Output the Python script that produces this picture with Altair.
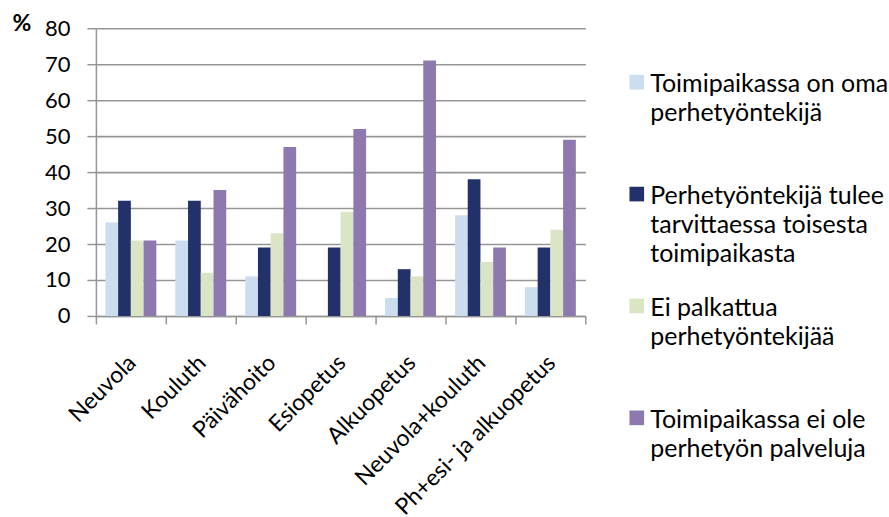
import altair as alt
import pandas as pd

# Categories on the x axis
categories = [
    "Neuvola",
    "Kouluth",
    "Päivähoito",
    "Esiopetus",
    "Alkuopetus",
    "Neuvola+kouluth",
    "Ph+esi- ja alkuopetus",
]

# Series (legend entries) and their wrapped legend texts
series = [
    "Toimipaikassa on oma perhetyöntekijä",
    "Perhetyöntekijä tulee tarvittaessa toisesta toimipaikasta",
    "Ei palkattua perhetyöntekijää",
    "Toimipaikassa ei ole perhetyön palveluja",
]
legend_texts = [
    "Toimipaikassa on oma\nperhetyöntekijä",
    "Perhetyöntekijä tulee\ntarvittaessa toisesta\ntoimipaikasta",
    "Ei palkattua\nperhetyöntekijää",
    "Toimipaikassa ei ole\nperhetyön palveluja",
]
colors = ["#CCDDEF", "#22316A", "#DAE5C6", "#8D79AD"]

# Percentages per series, in category order
oma_tyontekija = [26, 21, 11, 0, 5, 28, 8]
toisesta_toimipaikasta = [32, 32, 19, 19, 13, 38, 19]
ei_palkattua = [21, 12, 23, 29, 11, 15, 24]
ei_palveluja = [21, 35, 47, 52, 71, 19, 49]

y_ticks = [0, 10, 20, 30, 40, 50, 60, 70, 80]

rows = []
for s, vals in zip(series, [oma_tyontekija, toisesta_toimipaikasta, ei_palkattua, ei_palveluja]):
    for c, v in zip(categories, vals):
        rows.append({"kategoria": c, "sarja": s, "arvo": v})
df = pd.DataFrame(rows)

FONT = "Lato"
GRAY = "#969696"

color_scale = alt.Scale(domain=series, range=colors)

bars = alt.Chart(df).mark_bar().encode(
    x=alt.X(
        "kategoria:N",
        sort=categories,
        scale=alt.Scale(paddingInner=0, paddingOuter=0),
        axis=alt.Axis(
            title=None,
            labelAngle=-45,
            labelAlign="right",
            labelBaseline="middle",
            labelFontSize=23,
            labelFont=FONT,
            labelColor="#000000",
            labelPadding=35,
            labelOffset=1,
            labelLimit=400,
            tickBand="extent",
            tickSize=8,
            tickColor=GRAY,
            tickWidth=1.5,
            domainColor=GRAY,
            domainWidth=1.5,
            grid=False,
        ),
    ),
    xOffset=alt.XOffset(
        "sarja:N",
        sort=series,
        scale=alt.Scale(paddingInner=0, paddingOuter=0.745),
    ),
    y=alt.Y(
        "arvo:Q",
        scale=alt.Scale(domain=[0, 80], nice=False),
        axis=alt.Axis(
            values=y_ticks,
            title="%",
            titleAngle=0,
            titleAlign="left",
            titleBaseline="top",
            titleX=-84,
            titleY=-16,
            titleFont=FONT,
            titleFontSize=23,
            titleFontWeight="bold",
            titleColor="#000000",
            labelFont=FONT,
            labelFontSize=22,
            labelColor="#000000",
            labelPadding=17,
            tickSize=9,
            tickColor=GRAY,
            tickWidth=1.5,
            domainColor=GRAY,
            domainWidth=1.5,
            grid=True,
            gridColor=GRAY,
            gridWidth=1.6,
        ),
    ),
    color=alt.Color("sarja:N", sort=series, scale=color_scale, legend=None),
).properties(width=490, height=288)

# Legend drawn as its own panel: one row per series
leg_df = pd.DataFrame({"sarja": series, "teksti": legend_texts})
leg_y = alt.Y(
    "sarja:N",
    sort=series,
    axis=None,
    scale=alt.Scale(paddingInner=0, paddingOuter=0),
)

swatches = alt.Chart(leg_df).mark_square(size=215, opacity=1, strokeWidth=0, yOffset=-2).encode(
    x=alt.value(7.5),
    y=leg_y,
    color=alt.Color("sarja:N", scale=color_scale, legend=None),
)
labels = alt.Chart(leg_df).mark_text(
    align="left",
    baseline="alphabetic",
    font=FONT,
    fontSize=25,
    lineBreak="\n",
    lineHeight=29,
    dy=8,
    color="#000000",
).encode(
    x=alt.value(21),
    y=leg_y,
    text="teksti:N",
)
legend = alt.layer(swatches, labels).properties(width=240, height=448)

chart = (
    alt.hconcat(bars, legend, spacing=43)
    .properties(padding={"left": 12, "top": 12, "right": 0, "bottom": 0}, background="white")
    .configure_view(stroke=None)
)

chart.save("out.html", embed_options={"renderer": "svg", "actions": False})
